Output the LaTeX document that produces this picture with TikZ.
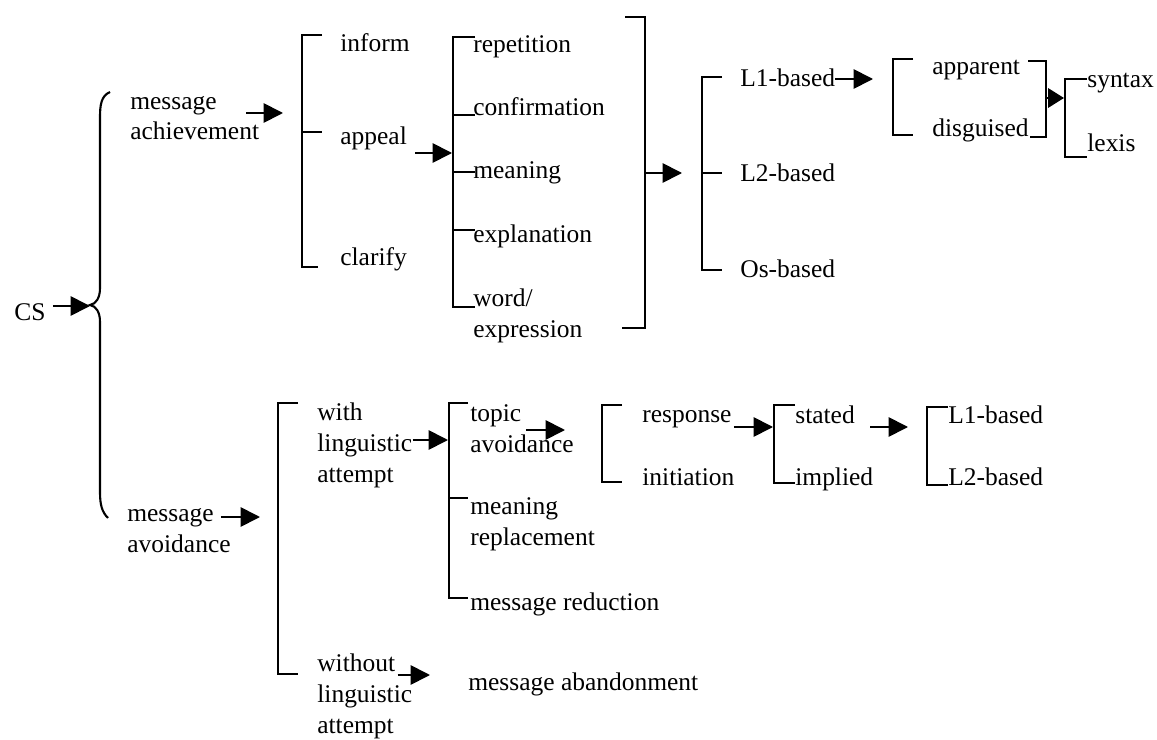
\documentclass[tikz,border=0pt]{standalone}
\usepackage{fontspec}
\setmainfont{Liberation Serif}
\usetikzlibrary{arrows.meta,calc}
\newcommand{\lblfont}{\fontsize{14.5}{17.6}\selectfont}
\tikzset{
  lbl/.style={anchor=base west, inner sep=0pt, align=left, font=\lblfont},
  arr/.style={-{Triangle[length=11pt,width=11pt]}, line width=1pt},
  brk/.style={line width=1pt},
}
\begin{document}
\begin{tikzpicture}[x=0.02cm, y=-0.02cm]
  \useasboundingbox (0,0) rectangle (1157,740);
  % root and brace
  \node[lbl] (cs) at (14,320) {CS};
  \draw[line width=1.2pt] (110,92) .. controls (101,96) and (100,105) .. (100,118)
    -- (100,288) .. controls (100,298) and (96,304) .. (90,305)
    .. controls (96,306) and (100,312) .. (100,322)
    -- (100,492) .. controls (100,505) and (102,512) .. (108,518);
  \coordinate (t0) at (90,306);
  \draw[arr] ($(t0 -| cs.east)+(7,0)$) -- (t0);

  % message achievement (base = last line)
  \node[lbl] (ach) at (130,140) {message\\achievement};
  \node[lbl] (inf) at (340,52) {inform};
  \node[lbl] (app) at (340,145) {appeal};
  \node[lbl] (cla) at (340,265) {clarify};
  \draw[brk] (322,35) -- (302,35) -- (302,267) -- (318,267);
  \draw[brk] (302,132) -- (322,132);
  \coordinate (t1) at (283,113);
  \draw[arr] ($(t1 -| ach.east)+(-13,0)$) -- (t1);

  % appeal
  \node[lbl] (rep) at (473,53) {repetition};
  \node[lbl] (con) at (473,116) {confirmation};
  \node[lbl] (mea) at (473,178) {meaning};
  \node[lbl] (exp) at (473,242) {explanation};
  \node[lbl] (wor) at (473,337) {word/\\expression};
  \draw[brk] (475,37) -- (453,37) -- (453,307) -- (475,307);
  \foreach \y in {115,172,230}
    \draw[brk] (453,\y) -- (475,\y);
  \coordinate (t2) at (452,153);
  \draw[arr] ($(t2 -| app.east)+(8,0)$) -- (t2);
  \draw[brk] (625,17) -- (645,17) -- (645,328) -- (622,328);
  \coordinate (c2) at (645,173);
  \coordinate (t3) at (682,173);
  \draw[arr] (c2) -- (t3);

  % L1 / L2 / Os
  \node[lbl] (lone) at (740,87) {L1-based};
  \node[lbl] (ltwo) at (740,182) {L2-based};
  \node[lbl] (os) at (740,277) {Os-based};
  \draw[brk] (722,77) -- (702,77) -- (702,270) -- (722,270);
  \draw[brk] (702,173) -- (722,173);
  \coordinate (t4) at (873,79);
  \draw[arr] ($(t4 -| lone.east)+(0,0)$) -- (t4);

  % apparent / disguised
  \node[lbl] (appa) at (932,75) {apparent};
  \node[lbl] (dis) at (932,137) {disguised};
  \draw[brk] (913,59) -- (893,59) -- (893,135) -- (913,135);
  \draw[brk] (1028,61) -- (1046,61) -- (1046,137) -- (1030,137);
  \coordinate (c4) at (1046,98);
  \coordinate (t5) at (1064,98);
  \draw[-{Triangle[length=9pt,width=11pt]}, line width=1pt] (c4) -- (t5);

  % syntax / lexis
  \node[lbl] (syn) at (1087,88) {syntax};
  \node[lbl] (lex) at (1087,152) {lexis};
  \draw[brk] (1087,79) -- (1065,79) -- (1065,157) -- (1087,157);

  % message avoidance
  \node[lbl] (avo) at (127,552) {message\\avoidance};
  \node[lbl] (with) at (317,482) {with\\linguistic\\attempt};
  \node[lbl] (wout) at (317,733) {without\\linguistic\\attempt};
  \draw[brk] (298,403) -- (278,403) -- (278,674) -- (298,674);
  \coordinate (t6) at (260,517);
  \draw[arr] ($(t6 -| avo.east)+(-10,0)$) -- (t6);

  % with linguistic attempt
  \node[lbl] (top) at (470,452) {topic\\avoidance};
  \node[lbl] (rpl) at (470,545) {meaning\\replacement};
  \node[lbl] (red) at (470,610) {message reduction};
  \draw[brk] (468,403) -- (449,403) -- (449,598) -- (468,598);
  \draw[brk] (449,498) -- (468,498);
  \coordinate (t7) at (448,440);
  \draw[arr] ($(t7 -| with.east)+(0,0)$) -- (t7);

  % topic avoidance
  \node[lbl] (res) at (642,422) {response};
  \node[lbl] (ini) at (642,485) {initiation};
  \draw[brk] (622,405) -- (602,405) -- (602,482) -- (622,482);
  \coordinate (t8) at (565,430);
  \draw[arr] ($(t8 -| top.east)+(-48,0)$) -- (t8);

  % response
  \node[lbl] (sta) at (795,423) {stated};
  \node[lbl] (imp) at (795,485) {implied};
  \draw[brk] (795,405) -- (774,405) -- (774,483) -- (795,483);
  \coordinate (t9) at (773,427);
  \draw[arr] ($(t9 -| res.east)+(2,0)$) -- (t9);

  % stated
  \node[lbl] (lonetwo) at (948,423) {L1-based};
  \node[lbl] (ltwotwo) at (948,485) {L2-based};
  \draw[brk] (948,407) -- (927,407) -- (927,485) -- (948,485);
  \coordinate (t10) at (908,427);
  \draw[arr] ($(t10 -| sta.east)+(15,0)$) -- (t10);

  % without linguistic attempt
  \node[lbl] (aba) at (468,690) {message abandonment};
  \coordinate (t11) at (430,675);
  \draw[arr] ($(t11 -| wout.east)+(-15,0)$) -- (t11);
\end{tikzpicture}
\end{document}
